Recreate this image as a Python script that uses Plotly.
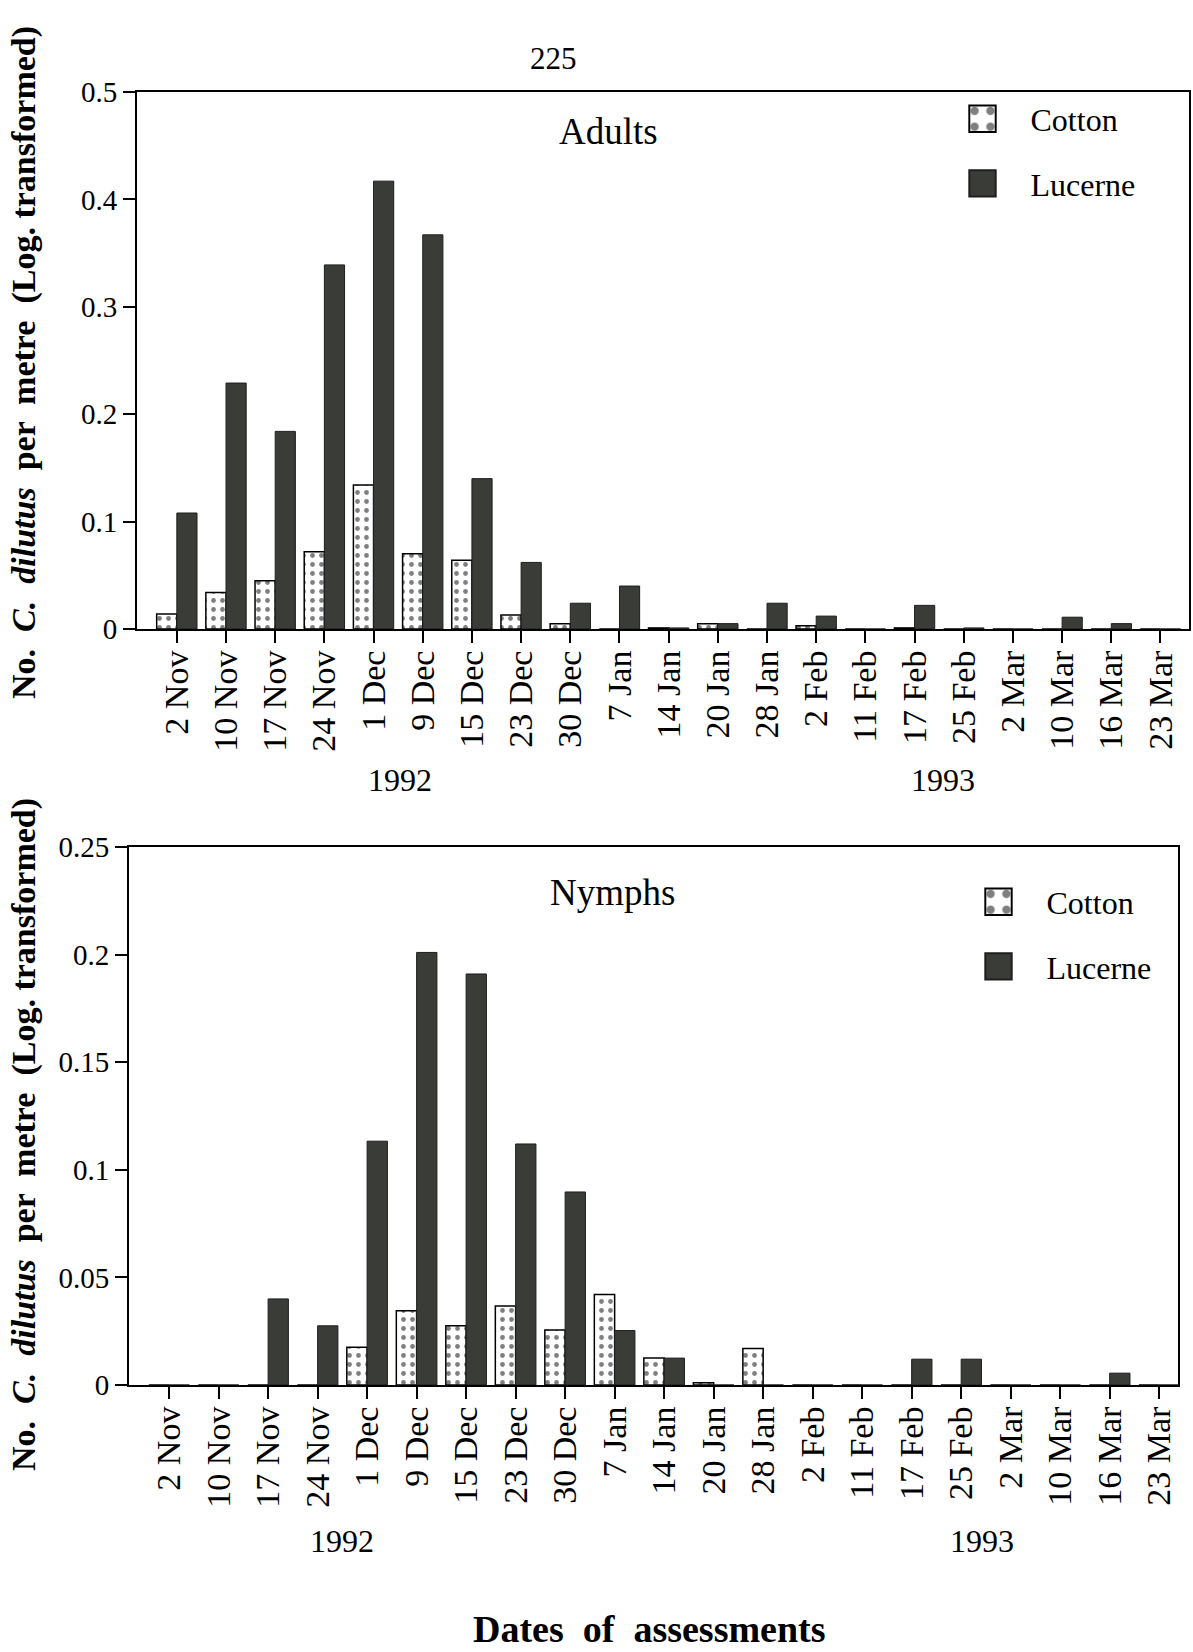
import plotly.graph_objects as go

dates = ["2 Nov", "10 Nov", "17 Nov", "24 Nov", "1 Dec", "9 Dec", "15 Dec", "23 Dec",
         "30 Dec", "7 Jan", "14 Jan", "20 Jan", "28 Jan", "2 Feb", "11 Feb", "17 Feb",
         "25 Feb", "2 Mar", "10 Mar", "16 Mar", "23 Mar"]

adult_cotton = [0.014, 0.034, 0.045, 0.072, 0.134, 0.070, 0.064, 0.013, 0.005, 0.0,
                0.001, 0.005, 0.0, 0.003, 0.0, 0.001, 0.0, 0.0, 0.0, 0.0, 0.0]
adult_lucerne = [0.108, 0.229, 0.184, 0.339, 0.417, 0.367, 0.140, 0.062, 0.024, 0.040,
                 0.001, 0.005, 0.024, 0.012, 0.0, 0.022, 0.001, 0.0, 0.011, 0.005, 0.0]
nymph_cotton = [0.0, 0.0, 0.0, 0.0, 0.0175, 0.0345, 0.0275, 0.0367, 0.0255, 0.042,
                0.0125, 0.001, 0.017, 0.0, 0.0, 0.0, 0.0, 0.0, 0.0, 0.0, 0.0]
nymph_lucerne = [0.0, 0.0, 0.040, 0.0275, 0.1133, 0.201, 0.191, 0.112, 0.0897, 0.0253,
                 0.0125, 0.0, 0.0, 0.0, 0.0, 0.012, 0.012, 0.0, 0.0, 0.0055, 0.0]

adult_ticks = [0, 0.1, 0.2, 0.3, 0.4, 0.5]
nymph_ticks = [0, 0.05, 0.1, 0.15, 0.2, 0.25]

W, H = 1193, 1652
SERIF = "Liberation Serif, Times New Roman, serif"
DARK = "#3a3c37"
n = len(dates)

cotton_marker = dict(color="white",
                     pattern=dict(shape=".", fgcolor="black", bgcolor="white",
                                  size=9, solidity=0.22, fillmode="overlay"),
                     line=dict(color="black", width=1.5))
lucerne_marker = dict(color=DARK, line=dict(color="#1e1e1e", width=1))

fig = go.Figure()
fig.add_trace(go.Bar(x=dates, y=adult_cotton, name="Cotton", marker=cotton_marker,
                     xaxis="x", yaxis="y", legend="legend", legendgroup="c"))
fig.add_trace(go.Bar(x=dates, y=adult_lucerne, name="Lucerne", marker=lucerne_marker,
                     xaxis="x", yaxis="y", legend="legend", legendgroup="l"))
fig.add_trace(go.Bar(x=dates, y=nymph_cotton, name="Cotton", marker=cotton_marker,
                     xaxis="x2", yaxis="y2", legend="legend2", legendgroup="c2"))
fig.add_trace(go.Bar(x=dates, y=nymph_lucerne, name="Lucerne", marker=lucerne_marker,
                     xaxis="x2", yaxis="y2", legend="legend2", legendgroup="l2"))


def px_x(v):
    return v / W


def px_y(v):
    return 1 - v / H


xcommon = dict(type="category", showline=True, linecolor="black", linewidth=2, mirror=True,
               ticks="outside", ticklen=12, tickwidth=2, tickcolor="black", tickangle=-90,
               tickfont=dict(family=SERIF, size=34, color="black"), showgrid=False,
               zeroline=False, automargin=False, ticklabelstandoff=-6)
ycommon = dict(showline=True, linecolor="black", linewidth=2, mirror=True,
               ticks="outside", ticklen=12, tickwidth=2, tickcolor="black",
               tickfont=dict(family=SERIF, size=29, color="black"), showgrid=False,
               zeroline=False, automargin=False)

legend_common = dict(xanchor="left", yanchor="top",
                     font=dict(family=SERIF, size=32, color="black"),
                     bgcolor="rgba(0,0,0,0)", traceorder="grouped", tracegroupgap=20,
                     itemwidth=86)

fig.update_layout(
    width=W, height=H,
    margin=dict(l=0, r=0, t=0, b=0, autoexpand=False),
    paper_bgcolor="white", plot_bgcolor="white",
    barmode="group", bargap=0.18, bargroupgap=0.0,
    font=dict(family=SERIF, color="black"),
    xaxis=dict(xcommon, domain=[px_x(137), px_x(1189)], anchor="y",
               range=[-0.81, n - 1 + 0.58]),
    yaxis=dict(ycommon, domain=[px_y(629), px_y(92)], range=[0, 0.5],
               tickvals=adult_ticks, anchor="x"),
    xaxis2=dict(xcommon, domain=[px_x(129), px_x(1178)], anchor="y2",
                range=[-0.81, n - 1 + 0.38]),
    yaxis2=dict(ycommon, domain=[px_y(1385), px_y(847)], range=[0, 0.25],
                tickvals=nymph_ticks, anchor="x2"),
    legend=dict(legend_common, x=px_x(934.5), y=px_y(91.5)),
    legend2=dict(legend_common, x=px_x(950.5), y=px_y(874.5)),
)

ytitle = "<b>No.  <i>C.  dilutus</i>  per  metre  (Log. transformed)</b>"
annots = [
    dict(text="225", x=px_x(553), y=px_y(58), font=dict(size=31)),
    dict(text="Adults", x=px_x(608), y=px_y(132), font=dict(size=37)),
    dict(text="Nymphs", x=px_x(612), y=px_y(892), font=dict(size=37)),
    dict(text="1992", x=px_x(400), y=px_y(780), font=dict(size=32)),
    dict(text="1993", x=px_x(943), y=px_y(780), font=dict(size=32)),
    dict(text="1992", x=px_x(342), y=px_y(1541), font=dict(size=32)),
    dict(text="1993", x=px_x(982), y=px_y(1541), font=dict(size=32)),
    dict(text="<b>Dates  of  assessments</b>", x=px_x(649), y=px_y(1629), font=dict(size=38)),
    dict(text=ytitle, x=px_x(24), y=px_y(363), textangle=-90, font=dict(size=34)),
    dict(text=ytitle, x=px_x(24), y=px_y(1135), textangle=-90, font=dict(size=34)),
]
for a in annots:
    a.update(xref="paper", yref="paper", showarrow=False, xanchor="center", yanchor="middle")
    a["font"] = dict(family=SERIF, color="black", **a["font"])
    fig.add_annotation(**a)

post = """
document.body.style.margin = '0';
document.body.style.padding = '0';
var gd = document.getElementById('{plot_id}');
function bigSwatches() {
  gd.querySelectorAll('.legendpoints path').forEach(function (p) {
    var t = p.getAttribute('data-orig-t');
    if (t === null) {
      t = p.getAttribute('transform') || '';
      p.setAttribute('data-orig-t', t);
    }
    p.setAttribute('transform', t + ' scale(2.2)');
    p.style.strokeWidth = '0.9px';
  });
}
bigSwatches();
gd.on('plotly_afterplot', bigSwatches);
"""

fig.write_html("out.html", post_script=post, config={"displayModeBar": False})
